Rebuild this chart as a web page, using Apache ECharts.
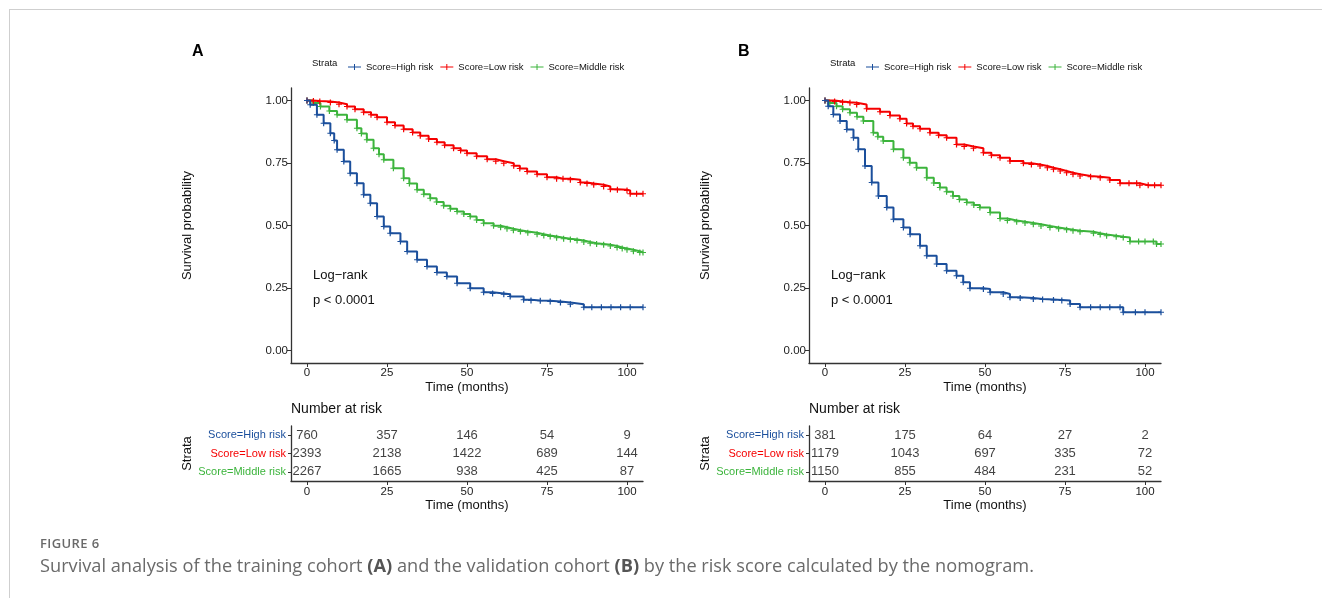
<!DOCTYPE html>
<html>
<head>
<meta charset="utf-8">
<script src="https://cdn.jsdelivr.net/npm/echarts@6/dist/echarts.min.js"></script>
<style>
  html, body { margin: 0; padding: 0; background: #fff; }
  #wrap { position: relative; width: 1322px; height: 598px; overflow: hidden; }
  #frame { position: absolute; left: 9px; top: 9px; width: 1400px; height: 700px;
           border-top: 1px solid #cfcfcf; border-left: 1px solid #cfcfcf; }
  #chart { position: absolute; left: 0; top: 0; width: 1322px; height: 598px; }
  .fig { position: absolute; left: 40px; top: 534px; font-family: 'Open Sans', sans-serif;
         font-size: 13px; font-weight: 600; color: #6a6a6a; letter-spacing: 0.4px; }
  .cap { position: absolute; left: 40px; top: 553px; font-family: 'Open Sans', sans-serif;
         font-size: 18.2px; color: #6a6a6a; white-space: nowrap; }
  .cap b { font-weight: 700; color: #555; }
</style>
</head>
<body>
<div id="wrap">
  <div id="frame"></div>
  <div id="chart"></div>
  <div class="fig">FIGURE 6</div>
  <div class="cap">Survival analysis of the training cohort <b>(A)</b> and the validation cohort <b>(B)</b> by the risk score calculated by the nomogram.</div>
</div>
<script>
// strata and colours
var strata = ['Score=High risk', 'Score=Low risk', 'Score=Middle risk'];
var strataColors = ['#1b4f9c', '#f50000', '#3cb43c'];
var timeTicks = [0, 25, 50, 75, 100];
var survTicks = [0, 0.25, 0.5, 0.75, 1];

// training cohort (A), [months, survival]
var trainHigh = [[0,1],[1,0.983],[3.1,0.943],[5.2,0.909],[7.3,0.869],[8.5,0.84],[9.4,0.803],[11.5,0.756],[13.5,0.709],[15.6,0.669],[17.7,0.623],[19.8,0.589],[21.9,0.536],[24,0.496],[26,0.469],[29.2,0.436],[31.3,0.396],[34.4,0.363],[37.5,0.336],[40.6,0.312],[43.7,0.296],[46.9,0.269],[51,0.249],[55.2,0.233],[58,0.228],[61.5,0.225],[63.5,0.216],[67.7,0.203],[70,0.2],[72.9,0.199],[76,0.196],[79.2,0.192],[82.3,0.185],[86.5,0.173],[89,0.173],[92,0.173],[95,0.173],[98,0.173],[101,0.173],[105,0.173]];
var trainLow = [[0,1],[2,0.998],[4,0.996],[7.3,0.992],[10,0.985],[12.5,0.976],[15,0.965],[17.7,0.953],[20,0.943],[21.9,0.933],[25,0.913],[27.5,0.9],[30.2,0.885],[33,0.872],[35.4,0.859],[38,0.846],[40.6,0.833],[43,0.821],[45.8,0.809],[48,0.8],[50,0.789],[53,0.777],[56.3,0.765],[59,0.757],[61.5,0.749],[64.6,0.739],[66.5,0.728],[68.8,0.716],[71.9,0.705],[75,0.693],[78,0.687],[80,0.687],[82.3,0.683],[85.4,0.672],[87.5,0.668],[89.6,0.663],[92.7,0.656],[94.8,0.645],[97,0.643],[100,0.64],[101,0.627],[103,0.627],[105,0.627]];
var trainMid = [[0,1],[2,0.99],[4.2,0.976],[7,0.958],[9.4,0.943],[12.5,0.923],[15.6,0.889],[17,0.868],[18.7,0.843],[20.8,0.809],[22.5,0.785],[24,0.763],[27,0.729],[30.2,0.689],[32,0.668],[34.4,0.643],[36.5,0.625],[38.5,0.609],[40.5,0.594],[42.7,0.579],[44.8,0.567],[46.9,0.556],[49,0.546],[51,0.536],[53,0.522],[55.2,0.509],[58.3,0.499],[60.5,0.493],[62.5,0.487],[64.5,0.481],[66.7,0.476],[69,0.471],[71.9,0.465],[74,0.46],[76,0.456],[78,0.451],[80.2,0.447],[82.3,0.444],[84.4,0.44],[86.5,0.434],[88.5,0.429],[90.5,0.426],[92.7,0.423],[94.8,0.418],[96.9,0.412],[98.5,0.408],[100,0.403],[102,0.397],[104,0.392],[105,0.392]];
var trainRiskHigh = [760, 357, 146, 54, 9];
var trainRiskLow = [2393, 2138, 1422, 689, 144];
var trainRiskMid = [2267, 1665, 938, 425, 87];

// validation cohort (B)
var validHigh = [[0,1],[1,0.977],[2.6,0.944],[4.7,0.918],[6.8,0.884],[8.9,0.851],[10.4,0.805],[12.5,0.738],[14.6,0.672],[16.7,0.618],[19.3,0.572],[21.4,0.525],[24.5,0.492],[26.6,0.465],[29.7,0.419],[31.8,0.379],[34.9,0.346],[38,0.319],[41.1,0.299],[43.2,0.273],[45.3,0.249],[49.5,0.246],[51.6,0.233],[55.7,0.226],[57.8,0.213],[61,0.21],[65.1,0.206],[68,0.204],[71.4,0.202],[74,0.2],[76.6,0.186],[79.7,0.173],[83,0.173],[86,0.173],[89,0.173],[92.2,0.173],[93.2,0.153],[97,0.153],[100,0.153],[105,0.153]];
var validLow = [[0,1],[3,0.996],[5.5,0.993],[7.8,0.991],[9.9,0.984],[13,0.967],[17.2,0.955],[20.3,0.94],[23.4,0.927],[25.5,0.908],[27.5,0.897],[29.7,0.887],[32.8,0.871],[35.5,0.861],[38,0.851],[41.1,0.824],[43.5,0.816],[46.4,0.809],[49.5,0.791],[52,0.781],[54.7,0.771],[57.8,0.758],[62,0.749],[64.5,0.744],[67.2,0.738],[69.5,0.731],[71.4,0.725],[73.5,0.718],[75.5,0.711],[77.5,0.705],[79.7,0.698],[83,0.695],[86,0.691],[89,0.682],[92.2,0.669],[95,0.669],[97.4,0.669],[98.4,0.661],[101,0.661],[103,0.661],[105,0.661]];
var validMid = [[0,1],[1.5,0.99],[3.6,0.977],[5.5,0.965],[7.8,0.951],[10,0.935],[12,0.918],[15.1,0.871],[16.5,0.855],[18.2,0.838],[21.4,0.805],[24.5,0.771],[26.5,0.751],[28.6,0.731],[31.8,0.691],[34,0.67],[35.9,0.652],[38,0.635],[40,0.618],[42,0.604],[44.3,0.592],[46.5,0.582],[48.4,0.572],[51.6,0.552],[54.7,0.528],[57,0.52],[59.9,0.515],[62.5,0.51],[65.1,0.505],[67.5,0.498],[70.3,0.492],[73,0.487],[75.5,0.483],[77.5,0.479],[79.7,0.475],[83.9,0.469],[86,0.464],[88,0.459],[91,0.455],[93.2,0.452],[95.3,0.436],[98,0.436],[100,0.436],[102.6,0.436],[103.6,0.426],[105,0.426]];
var validRiskHigh = [381, 175, 64, 27, 2];
var validRiskLow = [1179, 1043, 697, 335, 72];
var validRiskMid = [1150, 855, 484, 231, 52];

var plusIcon = 'path://M0,4 L10,4 L10,6 L0,6 Z M4,0 L6,0 L6,10 L4,10 Z';
var legendIcon = 'path://M0,5 L26,5 L26,7 L0,7 Z M12,0 L14,0 L14,12 L12,12 Z';
var font = 'Liberation Sans, Arial, sans-serif';
var axisCol = '#333';

var chart = echarts.init(document.getElementById('chart'));

var grids = [], xAxes = [], yAxes = [], series = [], legends = [], graphics = [];

function addPanel(left, letterX, letter, curves, risks) {
    var g = grids.length;
    grids.push({ left: left, top: 88, width: 352, height: 275 });
    grids.push({ left: left, top: 426, width: 352, height: 55 });

    function xAxis(gi, labelMargin, nameGap) {
        return {
            type: 'value', gridIndex: gi, min: -5, max: 105,
            axisLine: { show: true, onZero: false, lineStyle: { color: axisCol, width: 1.3 } },
            axisTick: { show: true, length: 4, customValues: timeTicks, lineStyle: { color: axisCol } },
            axisLabel: { customValues: timeTicks, color: '#222', fontSize: 11.5, fontFamily: font, margin: labelMargin },
            splitLine: { show: false },
            name: 'Time (months)', nameLocation: 'middle', nameGap: nameGap,
            nameTextStyle: { color: '#111', fontSize: 13, fontFamily: font }
        };
    }
    xAxes.push(xAxis(g, 4, 18));
    xAxes.push(xAxis(g + 1, 5, 18));

    yAxes.push({
        type: 'value', gridIndex: g, min: -0.05, max: 1.05,
        axisLine: { show: true, onZero: false, lineStyle: { color: axisCol, width: 1.3 } },
        axisTick: { show: true, length: 4, customValues: survTicks, lineStyle: { color: axisCol } },
        axisLabel: { customValues: survTicks, color: '#222', fontSize: 11.5, fontFamily: font, margin: 3,
                     formatter: function (v) { return v.toFixed(2); } },
        splitLine: { show: false },
        name: 'Survival probability', nameLocation: 'middle', nameGap: 97,
        nameTextStyle: { color: '#111', fontSize: 13, fontFamily: font }
    });
    yAxes.push({
        type: 'category', gridIndex: g + 1, data: strata, inverse: true,
        axisLine: { show: true, onZero: false, lineStyle: { color: axisCol, width: 1.3 } },
        axisTick: { show: true, length: 3, alignWithLabel: true, lineStyle: { color: axisCol } },
        axisLabel: { fontSize: 11, fontFamily: font, margin: 5,
                     color: function (v, i) { return strataColors[i]; } },
        name: 'Strata', nameLocation: 'middle', nameGap: 97, nameRotate: 90,
        nameTextStyle: { color: '#111', fontSize: 13, fontFamily: font }
    });

    curves.forEach(function (c, i) {
        series.push({
            name: strata[i], type: 'line', step: 'end', data: c,
            xAxisIndex: g, yAxisIndex: g,
            symbol: plusIcon, symbolSize: 6, showAllSymbol: true,
            lineStyle: { width: 2, color: strataColors[i] },
            itemStyle: { color: strataColors[i] },
            animation: false, z: 3 - i
        });
    });

    risks.forEach(function (r, i) {
        series.push({
            type: 'scatter', xAxisIndex: g + 1, yAxisIndex: g + 1,
            symbolSize: 0.1, itemStyle: { color: 'transparent' },
            data: timeTicks.map(function (t, k) { return [t, i, r[k]]; }),
            label: { show: true, position: 'inside', color: '#111', fontSize: 13, fontFamily: font,
                     formatter: function (p) { return p.value[2]; } },
            animation: false
        });
    });

    legends.push({
        left: left + 52, top: 57, data: strata, icon: legendIcon,
        itemWidth: 13, itemHeight: 6, itemGap: 7,
        textStyle: { fontSize: 9.5, fontFamily: font, color: '#111' }
    });

    graphics.push(
        { type: 'text', left: letterX, top: 44, style: { text: letter, fontSize: 16, fontWeight: 'bold', fontFamily: font, fill: '#000' } },
        { type: 'text', left: left + 21, top: 58, style: { text: 'Strata', fontSize: 9.5, fontFamily: font, fill: '#111' } },
        { type: 'text', left: left + 22, top: 269, style: { text: 'Log\u2212rank', fontSize: 13, fontFamily: font, fill: '#111' } },
        { type: 'text', left: left + 22, top: 294, style: { text: 'p < 0.0001', fontSize: 13, fontFamily: font, fill: '#111' } },
        { type: 'text', left: left, top: 402, style: { text: 'Number at risk', fontSize: 14, fontFamily: font, fill: '#111' } }
    );
}

addPanel(291, 192, 'A', [trainHigh, trainLow, trainMid], [trainRiskHigh, trainRiskLow, trainRiskMid]);
addPanel(809, 738, 'B', [validHigh, validLow, validMid], [validRiskHigh, validRiskLow, validRiskMid]);

chart.setOption({
    animation: false,
    grid: grids,
    xAxis: xAxes,
    yAxis: yAxes,
    series: series,
    legend: legends,
    graphic: graphics
});
</script>
</body>
</html>
